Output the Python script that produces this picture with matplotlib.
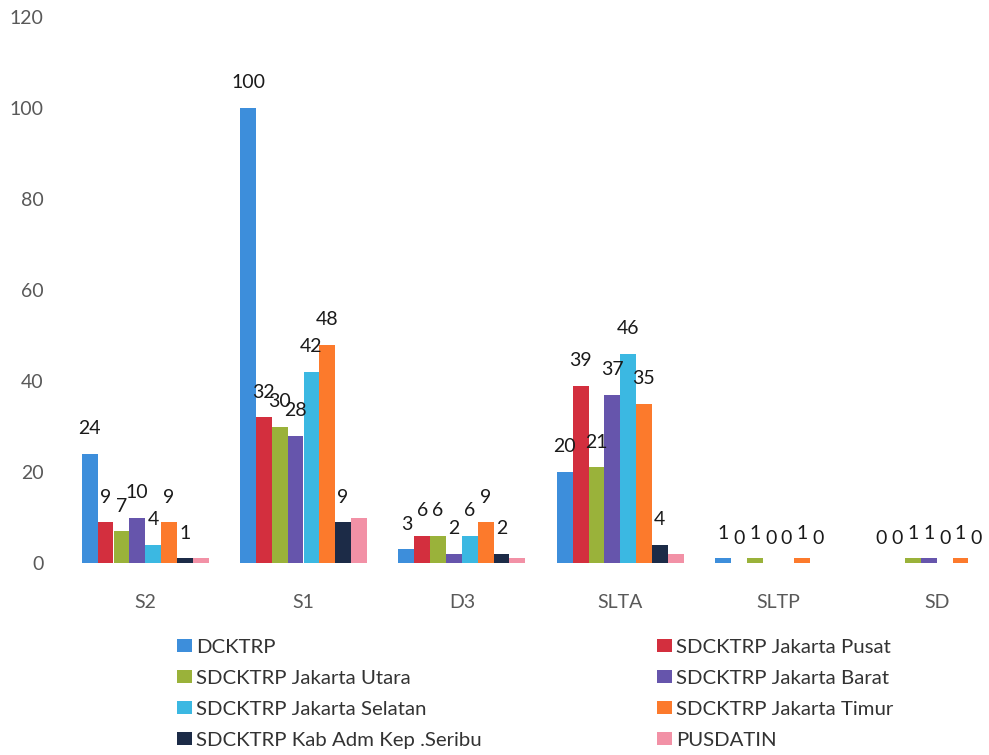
import matplotlib
matplotlib.use("Agg")
import matplotlib.pyplot as plt
import numpy as np

categories = ["S2", "S1", "D3", "SLTA", "SLTP", "SD"]
series_names = [
    "DCKTRP",
    "SDCKTRP Jakarta Pusat",
    "SDCKTRP Jakarta Utara",
    "SDCKTRP Jakarta Barat",
    "SDCKTRP Jakarta Selatan",
    "SDCKTRP Jakarta Timur",
    "SDCKTRP Kab Adm Kep .Seribu",
    "PUSDATIN",
]
dcktrp = [24, 100, 3, 20, 1, 0]
jak_pusat = [9, 32, 6, 39, 0, 0]
jak_utara = [7, 30, 6, 21, 1, 1]
jak_barat = [10, 28, 2, 37, 0, 1]
jak_selatan = [4, 42, 6, 46, 0, 0]
jak_timur = [9, 48, 9, 35, 1, 1]
kep_seribu = [1, 9, 2, 4, 0, 0]
pusdatin = [1, 10, 1, 2, 0, 0]
series_values = [dcktrp, jak_pusat, jak_utara, jak_barat, jak_selatan,
                 jak_timur, kep_seribu, pusdatin]
show_labels = [True, True, True, True, True, True, True, False]
yticks = [0, 20, 40, 60, 80, 100, 120]

colors = ["#3D8EDB", "#D32F3E", "#9AB23A", "#6655AC", "#3BB8E2",
          "#FC7A2C", "#1C2B47", "#F291A6"]

plt.rcParams['font.family'] = ['Lato', 'DejaVu Sans']

fig = plt.figure(figsize=(9.89, 7.55), dpi=100)
ax = fig.add_axes([66 / 989, 192 / 755, 950 / 989, 546 / 755])

x = np.arange(len(categories))
bw = 0.1
handles = []
for i, (name, vals, col) in enumerate(zip(series_names, series_values, colors)):
    pos = x + (i - 3.5) * bw
    b = ax.bar(pos, vals, width=bw, color=col, label=name, linewidth=0)
    handles.append(b)
    if show_labels[i]:
        for px, v in zip(pos, vals):
            ax.annotate(str(v), (px, v), xytext=(0, 18), textcoords="offset points",
                        ha="center", va="center", fontsize=14, color="#1a1a1a")

ax.set_xlim(-0.5, 5.5)
ax.set_ylim(0, 120)
ax.set_yticks(yticks)
ax.set_xticks(x)
ax.set_xticklabels(categories)
for s in ax.spines.values():
    s.set_visible(False)
ax.tick_params(axis="both", length=0, labelsize=14, labelcolor="#595959")
ax.tick_params(axis="x", pad=22)
ax.tick_params(axis="y", pad=16)

left_idx = [0, 2, 4, 6]
right_idx = [1, 3, 5, 7]
common = dict(frameon=False, fontsize=14.7, handlelength=0.72, handleheight=0.62,
              handletextpad=0.2, labelspacing=0.68, borderpad=0, borderaxespad=0,
              labelcolor="#333333", loc="upper left")
leg1 = fig.legend([handles[i] for i in left_idx], [series_names[i] for i in left_idx],
                  bbox_to_anchor=(177 / 989, 1 - 639 / 755), **common)
leg2 = fig.legend([handles[i] for i in right_idx], [series_names[i] for i in right_idx],
                  bbox_to_anchor=(657 / 989, 1 - 639 / 755), **common)

fig.savefig("out.png", dpi=100)
